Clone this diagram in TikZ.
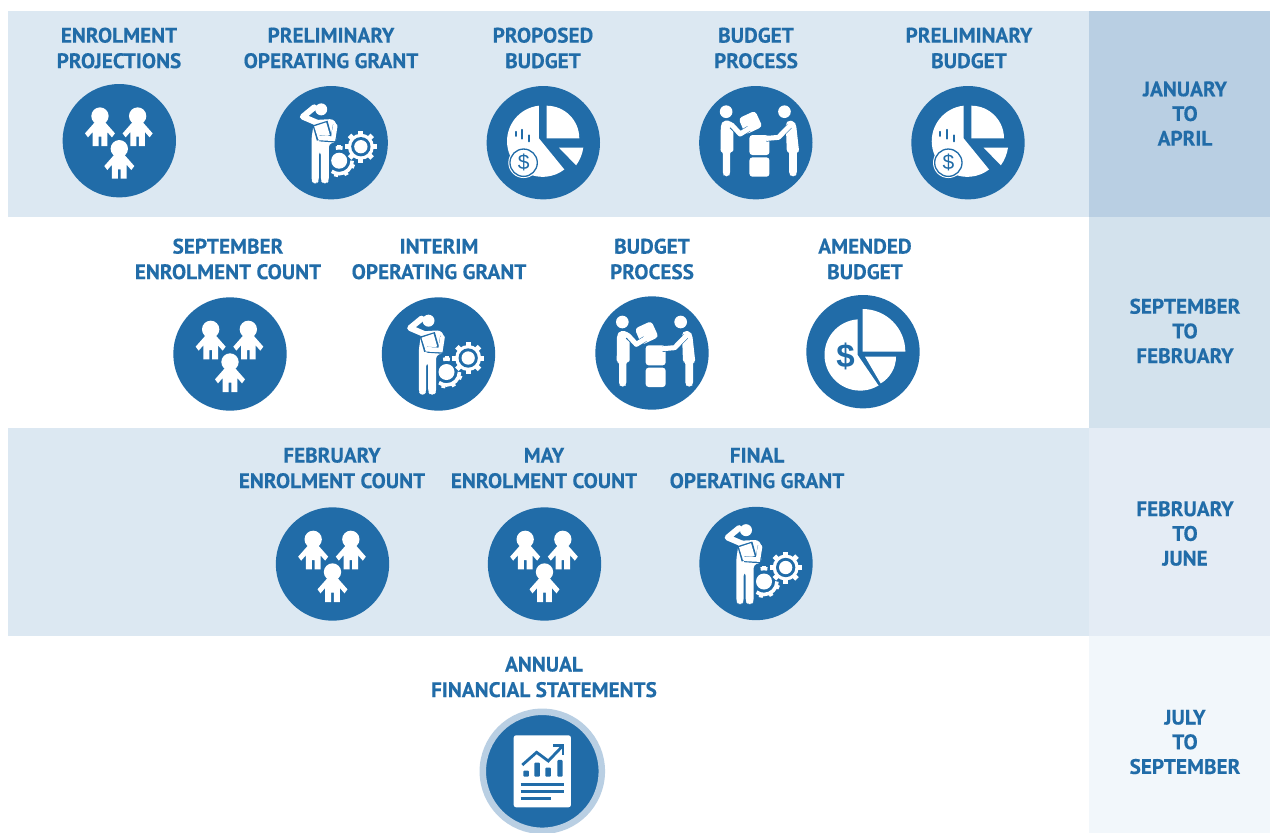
\documentclass[tikz,border=0pt]{standalone}
\usepackage{fontspec}
\setmainfont[FakeStretch=1.01,BoldFeatures={FakeBold=0.35}]{PT Sans}
\definecolor{ib}{HTML}{216CA8}
\definecolor{band}{HTML}{DCE8F2}
\definecolor{r1}{HTML}{B9CFE3}
\definecolor{r2}{HTML}{D3E2ED}
\definecolor{r3}{HTML}{E4ECF5}
\definecolor{r4}{HTML}{F2F7FB}
\tikzset{
 x=1pt,y=-1pt,
 disc/.style={circle,fill=ib,minimum size=113.4pt,inner sep=0pt},
 lab/.style={inner sep=0pt,align=center,text=ib,font=\fontsize{21}{25.5}\selectfont\bfseries},
 sidelab/.style={inner sep=0pt,align=center,text=ib,font=\fontsize{21}{24.7}\selectfont\bfseries},
 kids/.pic={
  \begin{scope}[scale=1/3]
  \foreach \a/\b in {-58/-74,55/-74,0/24}{
   \begin{scope}[shift={(\a,\b)}]
    \fill[white] (0,0) circle[radius=26];
    \fill[white] (-15,18) -- (15,18) -- (45,52) -- (36,64) -- (22,48) -- (22,90) -- (4,90) -- (4,62) -- (-4,62) -- (-4,90) -- (-22,90) -- (-22,48) -- (-36,64) -- (-45,52) -- cycle;
   \end{scope}}
  \end{scope}},
 manager/.pic={
  \begin{scope}[scale=1/3,shift={(-873,-218)}]
   % small gear
   \fill[white] (897,272) circle[radius=24];
   \draw[white,line width=3.6pt] (897,272) ++(0:39) arc[start angle=0,end angle=125,radius=39];
   \draw[white,line width=3.6pt] (897,272) ++(255:39) arc[start angle=255,end angle=285,radius=39];
   \foreach \t in {22,62,102}{\draw[white,line width=4pt] (897,272) ++(\t:36) -- ++(\t:13);}
   \draw[white,line width=4pt] (897,272) ++(270:36) -- ++(270:11);
   % large gear
   \foreach \t in {0,45,...,315}{\draw[white,line width=5pt] (962,230) ++(\t:30) -- ++(\t:18);}
   \fill[white] (962,230) circle[radius=39];
   \fill[ib] (962,230) circle[radius=29];
   \fill[white] (962,230) circle[radius=20];
   % person
   \fill[white] (843,118) circle[radius=18];
   \draw[white,line width=6pt,line join=round,line cap=round] (822,112) -- (788,140) -- (830,158);
   \fill[white,rounded corners=3pt] (822,150) -- (878,147) -- (889,160) -- (889,215) -- (866,222) -- (866,332) -- (860,340) -- (848,340) -- (842,332) -- (842,245) -- (836,245) -- (836,332) -- (830,340) -- (820,340) -- (814,332) -- (814,205) -- cycle;
   \fill[ib] (817,166) -- (862,152) -- (875,198) -- (830,212) -- cycle;
   \fill[white] (822,169) -- (858,157) -- (869,195) -- (834,207) -- cycle;
   \draw[ib,line width=6pt] (887,165) -- (880,208) -- (838,205);
   \draw[white,line width=4.6pt,line cap=round] (885,168) -- (879,206) -- (840,204);
  \end{scope}},
 pieA/.pic={
  \begin{scope}[scale=1/3,shift={(-220,-218)}]
   \fill[white] (207,107) arc[start angle=264,end angle=52.6,radius=107] -- (207,205) -- cycle;
   \fill[white] (230,107) arc[start angle=270,end angle=360,radius=98] -- (230,205) -- cycle;
   \fill[white] (267,233) -- (340,233) arc[start angle=8.5,end angle=35.8,radius=121] -- cycle;
   \draw[ib,line width=1.8pt,line cap=round] (137,185) -- (137,198) (157,179) -- (157,206) (178,196) -- (178,214);
   \fill[white] (161,278) circle[radius=46];
   \draw[ib,line width=1.3pt] (161,278) circle[radius=41];
   \node[inner sep=0pt,text=ib,font=\fontsize{21}{21}\fontspec{Liberation Sans}] (usd) at (161,278) {\$};
  \end{scope}},
 hands/.pic={
  \begin{scope}[scale=1/3,shift={(-857,-218)}]
   \fill[white] (768,125) circle[radius=19];
   \fill[white] (943,125) circle[radius=19];
   \fill[white,rounded corners=2pt] (752,165) -- (760,152) -- (780,152) -- (790,162) -- (790,245) -- (780,245) -- (780,312) -- (775,319) -- (763,319) -- (758,312) -- (758,245) -- (751,245) -- cycle;
   \fill[white,rounded corners=2pt] (947,160) -- (955,151) -- (972,154) -- (978,165) -- (987,245) -- (980,245) -- (980,312) -- (975,319) -- (963,319) -- (957,312) -- (957,245) -- (950,245) -- cycle;
   \fill[white,rounded corners=3.5pt] (805,145) -- (855,122) -- (877,170) -- (826,194) -- cycle;
   \fill[white,rounded corners=3pt] (838,195) rectangle (898,255);
   \fill[white,rounded corners=3pt] (838,262) rectangle (898,320);
   \draw[ib,line width=6pt,line join=round] (785,168) -- (810,192) -- (836,176);
   \draw[white,line width=5pt,line join=round,line cap=round] (785,165) -- (810,192) -- (836,176);
   \draw[ib,line width=6pt,line join=round] (958,168) -- (925,202) -- (888,206);
   \draw[white,line width=5pt,line join=round,line cap=round] (958,168) -- (925,202) -- (890,205);
  \end{scope}},
 pieB/.pic={
  \begin{scope}[scale=1/3,shift={(-219,-200)}]
   \fill[white] (203,103) arc[start angle=266,end angle=59,radius=107] -- (203,210) -- cycle;
   \fill[white] (218,72) arc[start angle=270,end angle=360,radius=128] -- (218,200) -- cycle;
   \fill[white] (225,215) -- (318,215) arc[start angle=0,end angle=59.6,radius=93] -- cycle;
   \node[inner sep=0pt,text=ib,font=\fontsize{33}{33}\fontspec{Liberation Sans}\bfseries] (usd) at (167,215) {\$};
  \end{scope}},
 report/.pic={
  \begin{scope}[scale=1/3,shift={(-217,-214)}]
   \fill[white,rounded corners=2.5pt] (131,106) rectangle (303,322);
   \draw[ib,line width=2.8pt] (157,195) -- (200,157) -- (235,183) -- (276,140);
   \draw[ib,line width=2.8pt] (250,137) -- (279,137) -- (279,166);
   \fill[ib,rounded corners=1pt] (160,212) rectangle (177,230);
   \fill[ib,rounded corners=1pt] (193,188) rectangle (210,230);
   \fill[ib,rounded corners=1pt] (226,203) rectangle (243,230);
   \fill[ib,rounded corners=1pt] (262,180) rectangle (278,230);
   \draw[ib,line width=3pt] (152,255) -- (283,255) (152,276) -- (283,276) (152,297) -- (243,297);
  \end{scope}}
}
\begin{document}
\begin{tikzpicture}
\useasboundingbox (0,0) rectangle (1270,833);
\fill[white] (0,0) rectangle (1270,833);
% bands
\fill[band] (8,11) rectangle (1089,217);
\fill[band] (8,428) rectangle (1089,636);
\fill[r1] (1089,11) rectangle (1270,217);
\fill[r2] (1089,217) rectangle (1270,428);
\fill[r3] (1089,428) rectangle (1270,636);
\fill[r4] (1089,636) rectangle (1270,833);
% row 1
\node[lab] (t11) at (119,48) {ENROLMENT\\PROJECTIONS};
\node[lab] (t12) at (331,48) {PRELIMINARY\\OPERATING GRANT};
\node[lab] (t13) at (543,48) {PROPOSED\\BUDGET};
\node[lab] (t14) at (756,48) {BUDGET\\PROCESS};
\node[lab] (t15) at (969,48) {PRELIMINARY\\BUDGET};
\node[disc] (c11) at (119.3,140.7) {};
\node[disc] (c12) at (331.2,142.7) {};
\node[disc] (c13) at (543.3,142.7) {};
\node[disc] (c14) at (755.8,142.7) {};
\node[disc] (c15) at (968,142.7) {};
\pic (i11) at (c11) {kids};
\pic (i12) at (c12) {manager};
\pic (i13) at (c13) {pieA};
\pic (i14) at (c14) {hands};
\pic (i15) at (c15) {pieA};
% row 2
\node[lab] (t21) at (228,259) {SEPTEMBER\\ENROLMENT COUNT};
\node[lab] (t22) at (439,259) {INTERIM\\OPERATING GRANT};
\node[lab] (t23) at (652,259) {BUDGET\\PROCESS};
\node[lab] (t24) at (865,259) {AMENDED\\BUDGET};
\node[disc] (c21) at (230,354) {};
\node[disc] (c22) at (438.5,354) {};
\node[disc] (c23) at (652,353) {};
\node[disc] (c24) at (863,351.7) {};
\pic (i21) at (c21) {kids};
\pic (i22) at (c22) {manager};
\pic (i23) at (c23) {hands};
\pic (i24) at (c24) {pieB};
% row 3
\node[lab] (t31) at (332,468) {FEBRUARY\\ENROLMENT COUNT};
\node[lab] (t32) at (544,468) {MAY\\ENROLMENT COUNT};
\node[lab] (t33) at (757,468) {FINAL\\OPERATING GRANT};
\node[disc] (c31) at (332.5,564) {};
\node[disc] (c32) at (544.5,564) {};
\node[disc] (c33) at (756,563.5) {};
\pic (i31) at (c31) {kids};
\pic (i32) at (c32) {kids};
\pic (i33) at (c33) {manager};
% row 4
\node[lab] (t41) at (544,677) {ANNUAL\\FINANCIAL STATEMENTS};
\node[disc,draw=r1,line width=6.5pt,minimum size=119pt] (c41) at (542.3,771.3) {};
\pic (i41) at (c41) {report};
% side labels
\node[sidelab] (s1) at (1185,113.5) {JANUARY\\TO\\APRIL};
\node[sidelab] (s2) at (1185,331) {SEPTEMBER\\TO\\FEBRUARY};
\node[sidelab] (s3) at (1185,533.5) {FEBRUARY\\TO\\JUNE};
\node[sidelab] (s4) at (1185,742) {JULY\\TO\\SEPTEMBER};
\end{tikzpicture}
\end{document}
